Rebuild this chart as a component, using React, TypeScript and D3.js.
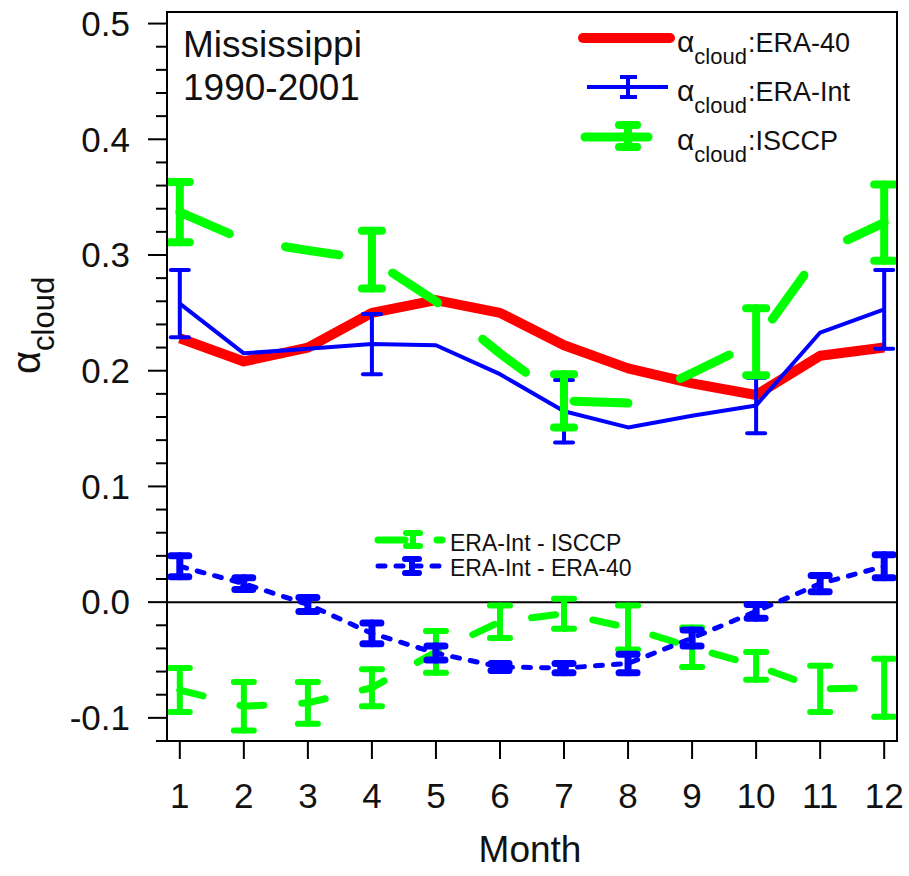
import React from 'react';
import * as d3 from 'd3';

// monthly values
const months = [1, 2, 3, 4, 5, 6, 7, 8, 9, 10, 11, 12];
const era40 = [0.228, 0.208, 0.220, 0.250, 0.261, 0.250, 0.222, 0.202, 0.189, 0.179, 0.213, 0.220];
const eraInt = [0.258, 0.215, 0.219, 0.223, 0.222, 0.197, 0.165, 0.151, 0.161, 0.170, 0.233, 0.253];
const eraIntErr = [0.029, null, null, 0.026, null, null, 0.027, null, null, 0.024, null, 0.034];
const isccp = [0.337, 0.313, 0.304, 0.296, 0.260, 0.215, 0.174, 0.172, 0.198, 0.225, 0.302, 0.328];
const isccpErr = [0.026, null, null, 0.025, null, null, 0.023, null, null, 0.029, null, 0.033];
const diffIsccp = [-0.076, -0.090, -0.087, -0.074, -0.043, -0.017, -0.010, -0.022, -0.039, -0.055, -0.075, -0.074];
const diffIsccpErr = [0.019, 0.021, 0.018, 0.016, 0.018, 0.014, 0.013, 0.019, 0.017, 0.012, 0.020, 0.025];
const diffEra40 = [0.031, 0.016, -0.002, -0.027, -0.044, -0.056, -0.057, -0.053, -0.031, -0.008, 0.016, 0.031];
const diffEra40Err = [0.009, 0.005, 0.006, 0.009, 0.006, 0.003, 0.004, 0.008, 0.007, 0.006, 0.007, 0.010];
const yTicks = [-0.1, 0.0, 0.1, 0.2, 0.3, 0.4, 0.5];
const legendTop = [':ERA-40', ':ERA-Int', ':ISCCP'];
const legendBottom = ['ERA-Int - ISCCP', 'ERA-Int - ERA-40'];

const width = 909;
const height = 876;
const left = 167;
const right = 897;
const top = 12;
const bottom = 741;
const font = 'Liberation Sans, Arial, sans-serif';

const x = d3.scaleLinear().domain([0.8, 12.2]).range([left, right]);
const y = d3.scaleLinear().domain([-0.12, 0.51]).range([bottom, top]);

const line = d3.line<number>()
  .x((_, i) => x(months[i]))
  .y((d) => y(d));

const minorTicks = d3.range(-0.12, 0.51, 0.02).filter(
  (v) => !yTicks.some((t) => Math.abs(t - v) < 1e-6)
);

// vertical error bar with caps
function ErrBar({ xv, v, e, color, sw, cap }: { xv: number; v: number; e: number | null; color: string; sw: number; cap: number }) {
  if (e == null) return null;
  const cx = x(xv);
  const y1 = y(v + e);
  const y2 = y(v - e);
  return (
    <g stroke={color} strokeWidth={sw} strokeLinecap="round">
      <line x1={cx} x2={cx} y1={y1} y2={y2} />
      <line x1={cx - cap / 2} x2={cx + cap / 2} y1={y1} y2={y1} />
      <line x1={cx - cap / 2} x2={cx + cap / 2} y1={y2} y2={y2} />
    </g>
  );
}

const App: React.FC = () => {
  return (
    <div style={{ position: 'absolute', left: 0, top: 0 }}>
      <svg width={width} height={height} style={{ display: 'block', background: '#fff' }} fontFamily={font}>
        {/* zero line */}
        <line x1={left} x2={right} y1={y(0)} y2={y(0)} stroke="#000" strokeWidth={2} />

        {/* ERA-40 */}
        <path d={line(era40)!} fill="none" stroke="#ff0000" strokeWidth={10} strokeLinejoin="round" />

        {/* ERA-Int */}
        <path d={line(eraInt)!} fill="none" stroke="#0000ff" strokeWidth={4} strokeLinejoin="round" />
        {months.map((m, i) => (
          <ErrBar key={'bi' + m} xv={m} v={eraInt[i]} e={eraIntErr[i]} color="#0000ff" sw={4} cap={18} />
        ))}

        {/* ISCCP */}
        <path d={line(isccp)!} fill="none" stroke="#00ff00" strokeWidth={9} strokeDasharray="54 58" strokeLinecap="round" />
        {months.map((m, i) => (
          <ErrBar key={'gi' + m} xv={m} v={isccp[i]} e={isccpErr[i]} color="#00ff00" sw={8} cap={20} />
        ))}

        {/* ERA-Int - ISCCP */}
        <path d={line(diffIsccp)!} fill="none" stroke="#00ff00" strokeWidth={7} strokeDasharray="24 38" strokeLinecap="round" />
        {months.map((m, i) => (
          <ErrBar key={'gd' + m} xv={m} v={diffIsccp[i]} e={diffIsccpErr[i]} color="#00ff00" sw={6} cap={20} />
        ))}

        {/* ERA-Int - ERA-40 */}
        <path d={line(diffEra40)!} fill="none" stroke="#0000ff" strokeWidth={5} strokeDasharray="7 11" strokeLinecap="round" />
        {months.map((m, i) => (
          <ErrBar key={'bd' + m} xv={m} v={diffEra40[i]} e={diffEra40Err[i]} color="#0000ff" sw={7} cap={18} />
        ))}

        {/* frame */}
        <rect x={left} y={top} width={right - left} height={bottom - top} fill="none" stroke="#000" strokeWidth={2} />

        {/* y ticks */}
        {yTicks.map((t) => (
          <g key={'yt' + t}>
            <line x1={left - 19} x2={left} y1={y(t)} y2={y(t)} stroke="#000" strokeWidth={2} />
            <text x={130} y={y(t)} dy="0.35em" textAnchor="end" fontSize={35} fill="#111">{t.toFixed(1)}</text>
          </g>
        ))}
        {minorTicks.map((t) => (
          <line key={'ym' + t} x1={left - 11} x2={left} y1={y(t)} y2={y(t)} stroke="#000" strokeWidth={2} />
        ))}

        {/* x ticks */}
        {months.map((m) => (
          <g key={'xt' + m}>
            <line x1={x(m)} x2={x(m)} y1={bottom} y2={bottom + 18} stroke="#000" strokeWidth={2} />
            <text x={x(m)} y={808} textAnchor="middle" fontSize={35} fill="#111">{m}</text>
          </g>
        ))}

        {/* axis titles */}
        <text x={530} y={862} textAnchor="middle" fontSize={37} fill="#111">Month</text>
        <text transform="translate(40,374) rotate(-90)" fontSize={40} fill="#111">
          α<tspan fontSize={31} dy={14}>cloud</tspan>
        </text>

        {/* region label */}
        <text x={183} y={57} fontSize={37} fill="#111">Mississippi</text>
        <text x={183} y={100} fontSize={37} fill="#111">1990-2001</text>

        {/* upper legend */}
        <line x1={583} x2={670} y1={38} y2={38} stroke="#ff0000" strokeWidth={10} strokeLinecap="round" />
        <line x1={587} x2={668} y1={87} y2={87} stroke="#0000ff" strokeWidth={4} />
        <g stroke="#0000ff" strokeWidth={4}>
          <line x1={628} x2={628} y1={77} y2={97} />
          <line x1={620} x2={637} y1={77} y2={77} />
          <line x1={620} x2={637} y1={97} y2={97} />
        </g>
        <line x1={585} x2={648} y1={137} y2={137} stroke="#00ff00" strokeWidth={9} strokeLinecap="round" />
        <g stroke="#00ff00" strokeWidth={8} strokeLinecap="round">
          <line x1={628} x2={628} y1={125} y2={147} />
          <line x1={619} x2={637} y1={125} y2={125} />
          <line x1={619} x2={637} y1={147} y2={147} />
        </g>
        {legendTop.map((s, i) => (
          <text key={s} x={677} y={52 + i * 49} fontSize={30} fill="#111">
            α<tspan fontSize={22} dy={12}>cloud</tspan>
            <tspan dx={1} dy={-12} fontSize={27}>{s}</tspan>
          </text>
        ))}

        {/* lower legend */}
        <line x1={378} x2={405} y1={540} y2={540} stroke="#00ff00" strokeWidth={7} strokeLinecap="round" />
        <line x1={437} x2={442} y1={540} y2={540} stroke="#00ff00" strokeWidth={7} strokeLinecap="round" />
        <g stroke="#00ff00" strokeWidth={6} strokeLinecap="round">
          <line x1={413} x2={413} y1={533} y2={546} />
          <line x1={406} x2={420} y1={533} y2={533} />
          <line x1={406} x2={420} y1={546} y2={546} />
        </g>
        <line x1={378} x2={443} y1={566} y2={566} stroke="#0000ff" strokeWidth={5} strokeDasharray="7 11" strokeLinecap="round" />
        <g stroke="#0000ff" strokeWidth={6} strokeLinecap="round">
          <line x1={412} x2={412} y1={559} y2={573} />
          <line x1={405} x2={419} y1={559} y2={559} />
          <line x1={405} x2={419} y1={573} y2={573} />
        </g>
        {legendBottom.map((s, i) => (
          <text key={s} x={450} y={551 + i * 25} fontSize={23} fill="#111">{s}</text>
        ))}
      </svg>
    </div>
  );
};

export default App;
